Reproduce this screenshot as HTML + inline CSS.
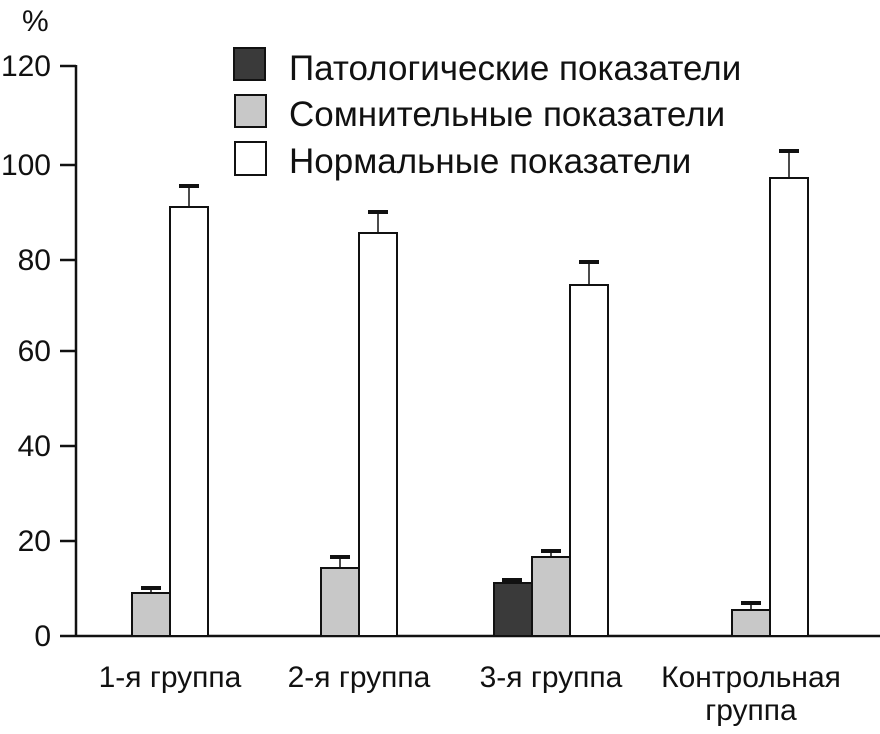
<!DOCTYPE html><html><head><style>body{margin:0;background:#fff}</style></head><body>
<svg width="880" height="729" xmlns="http://www.w3.org/2000/svg" font-family="Liberation Sans, sans-serif" fill="#111">
<rect width="880" height="729" fill="#fff"/>
<text x="22" y="31" font-size="30">%</text>
<g stroke="#111" stroke-width="2.5">
<line x1="76" y1="65" x2="76" y2="636"/>
<line x1="60" y1="636" x2="880" y2="636"/>
<line x1="60" y1="66" x2="76" y2="66"/><line x1="60" y1="165" x2="76" y2="165"/>
<line x1="60" y1="260" x2="76" y2="260"/><line x1="60" y1="351" x2="76" y2="351"/>
<line x1="60" y1="446" x2="76" y2="446"/><line x1="60" y1="541" x2="76" y2="541"/>
</g>
<g font-size="30" text-anchor="end">
<text x="51" y="76">120</text><text x="51" y="175">100</text><text x="51" y="270">80</text>
<text x="51" y="361">60</text><text x="51" y="456">40</text><text x="51" y="551">20</text><text x="51" y="646">0</text>
</g>
<g stroke="#111" stroke-width="1.5">
<line x1="151" y1="588" x2="151" y2="593"/><line x1="189" y1="186" x2="189" y2="207"/>
<line x1="340" y1="557" x2="340" y2="568"/><line x1="378" y1="212" x2="378" y2="233"/>
<line x1="512" y1="580" x2="512" y2="583"/><line x1="551" y1="551" x2="551" y2="557"/><line x1="589" y1="262" x2="589" y2="285"/>
<line x1="751" y1="603" x2="751" y2="610"/><line x1="789" y1="151" x2="789" y2="178"/>
</g>
<g fill="#111">
<rect x="141" y="586" width="20" height="4"/><rect x="179" y="184" width="20" height="4"/>
<rect x="330" y="555" width="20" height="4"/><rect x="368" y="210" width="20" height="4"/>
<rect x="502" y="578" width="20" height="4"/><rect x="541" y="549" width="20" height="4"/><rect x="579" y="260" width="20" height="4"/>
<rect x="741" y="601" width="20" height="4"/><rect x="779" y="149" width="20" height="4"/>
</g>
<g stroke="#111" stroke-width="2">
<rect x="132" y="593" width="38" height="43" fill="#c8c8c8"/><rect x="170" y="207" width="38" height="429" fill="#fff"/>
<rect x="321" y="568" width="38" height="68" fill="#c8c8c8"/><rect x="359" y="233" width="38" height="403" fill="#fff"/>
<rect x="494" y="583" width="38" height="53" fill="#3a3a3a"/><rect x="532" y="557" width="38" height="79" fill="#c8c8c8"/><rect x="570" y="285" width="38" height="351" fill="#fff"/>
<rect x="732" y="610" width="38" height="26" fill="#c8c8c8"/><rect x="770" y="178" width="38" height="458" fill="#fff"/>
<rect x="234" y="48" width="31" height="32" fill="#3a3a3a"/>
<rect x="235" y="95" width="31" height="32" fill="#c8c8c8"/>
<rect x="235" y="142" width="31" height="33" fill="#fff"/>
</g>
<g font-size="35">
<text x="289" y="80">Патологические показатели</text>
<text x="289" y="126">Сомнительные показатели</text>
<text x="289" y="173">Нормальные показатели</text>
</g>
<g font-size="30" text-anchor="middle">
<text x="170" y="687">1-я группа</text><text x="359" y="687">2-я группа</text>
<text x="551" y="687">3-я группа</text><text x="751" y="687">Контрольная</text><text x="751" y="720">группа</text>
</g>
</svg></body></html>
